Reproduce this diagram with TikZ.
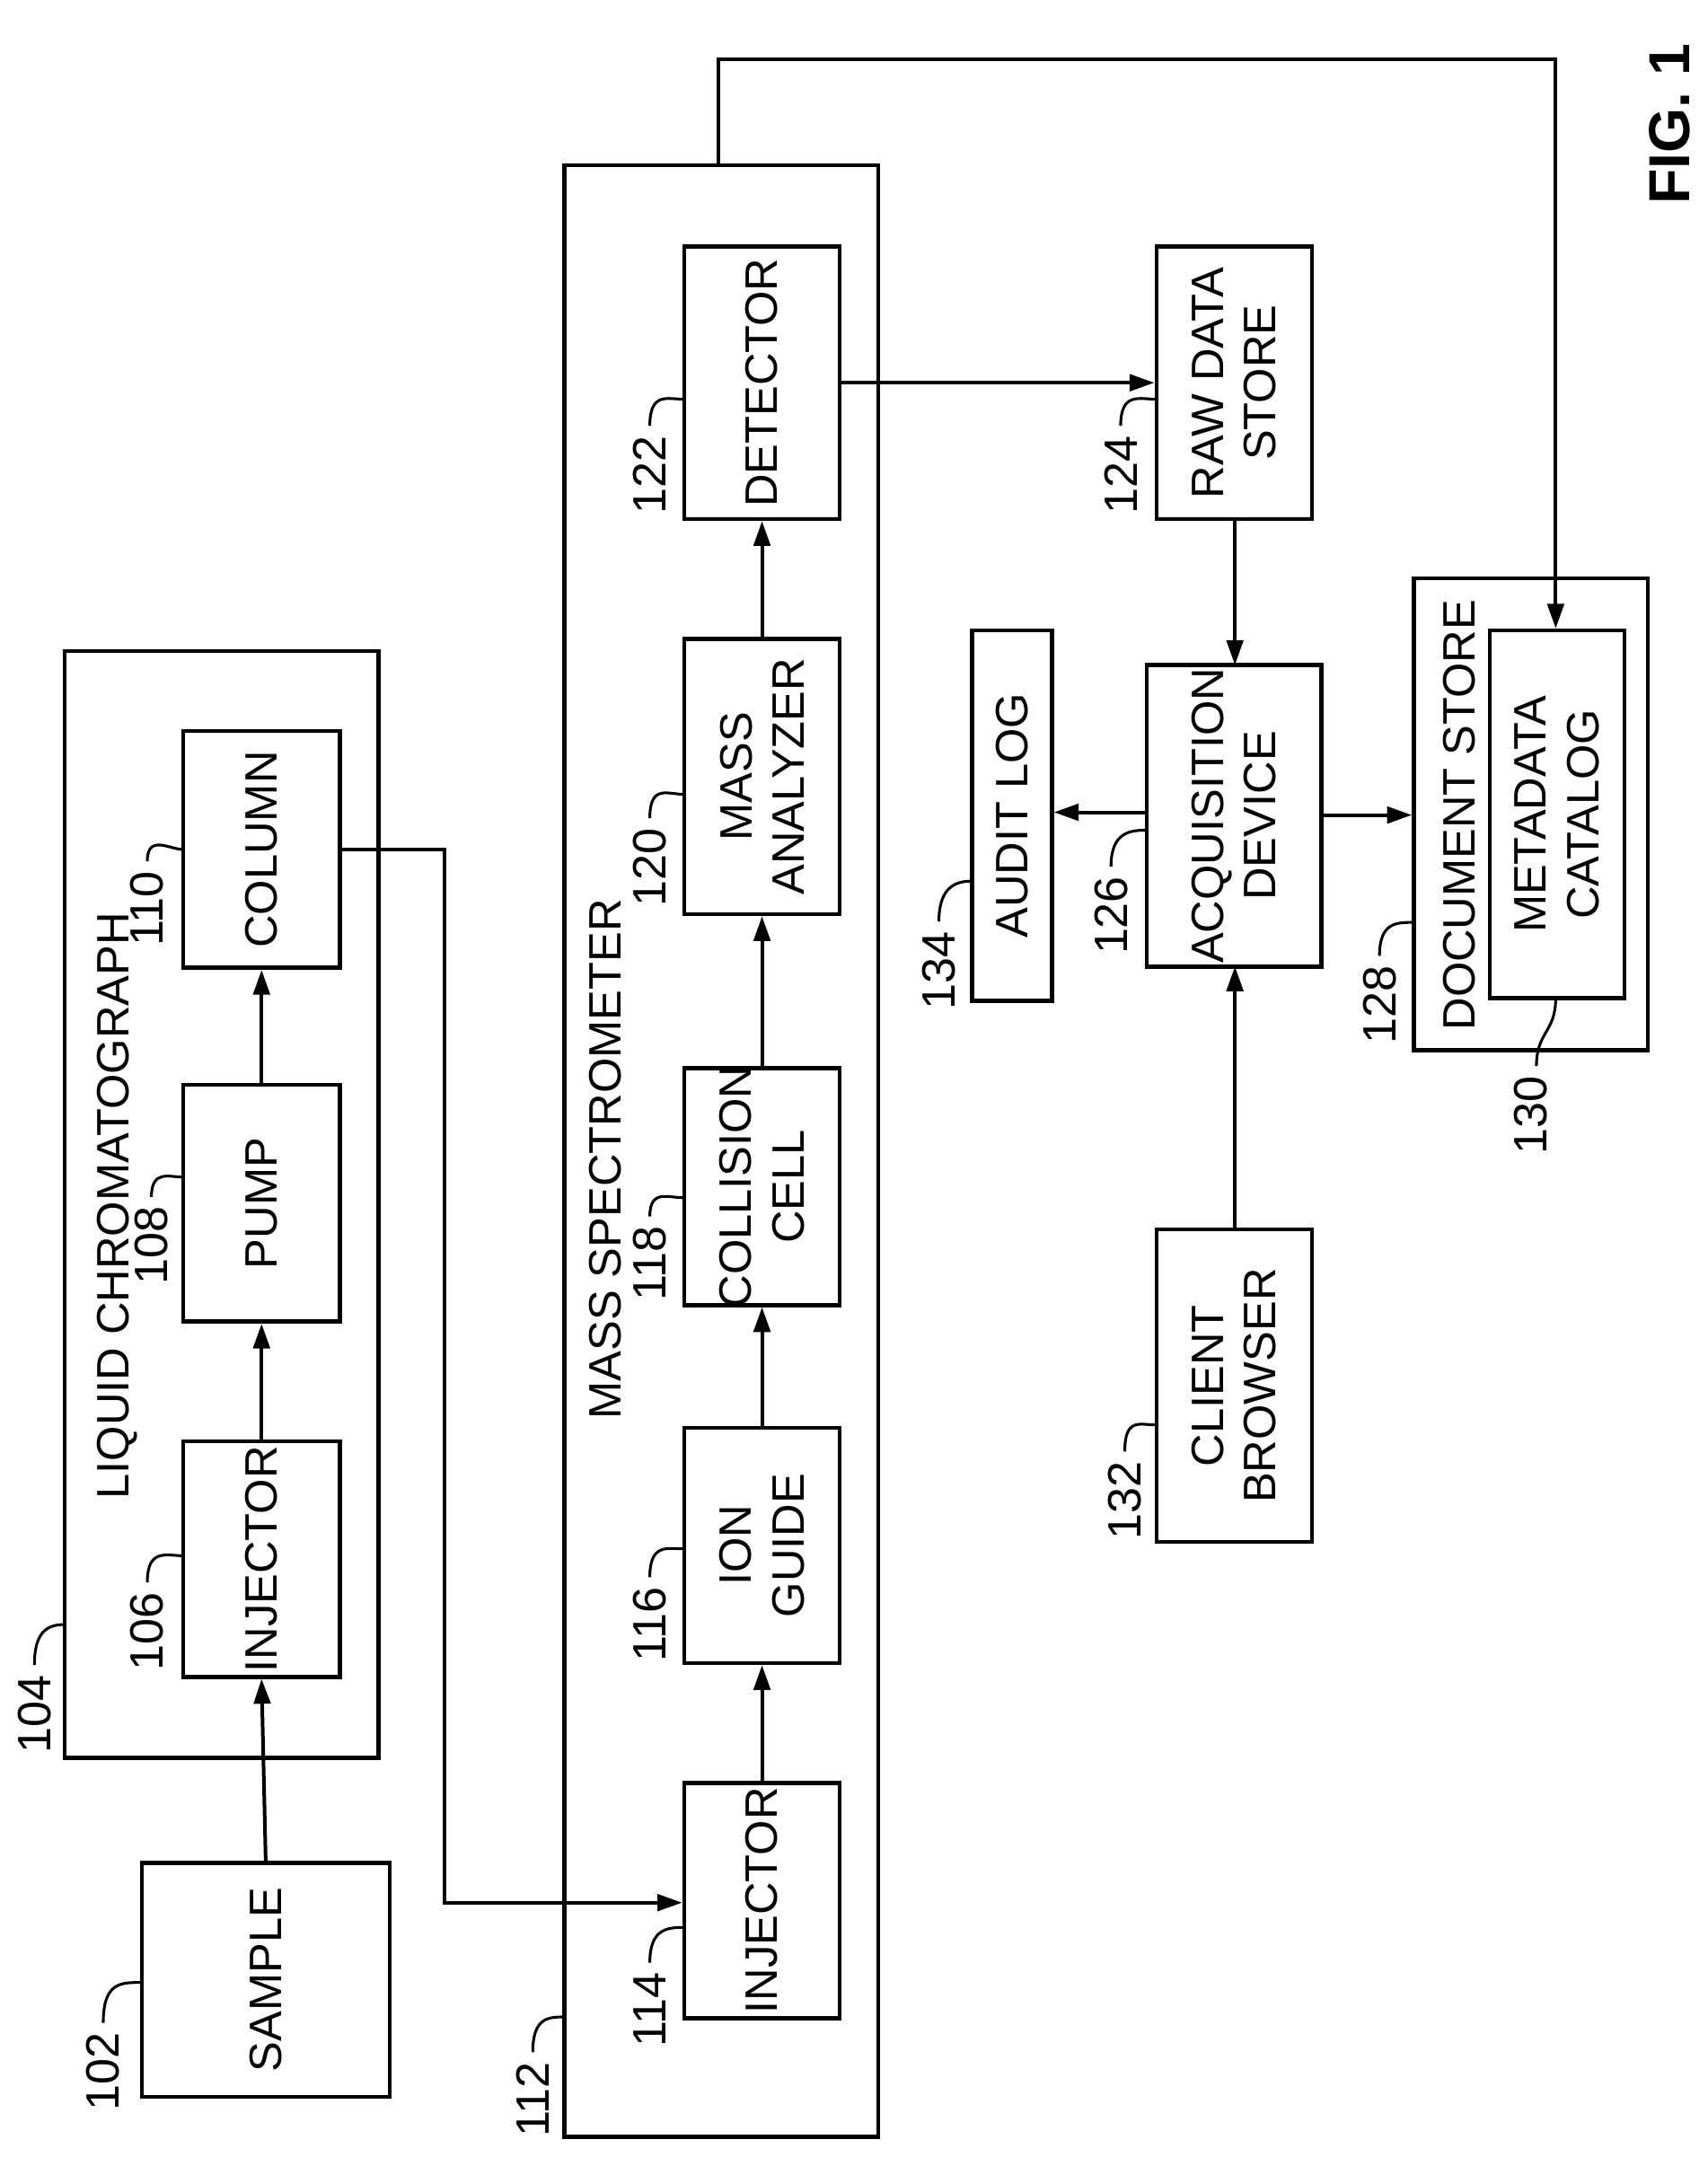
\documentclass[tikz,border=0pt]{standalone}
\usepackage{fontspec}
\setmainfont{Liberation Sans}
\usetikzlibrary{arrows.meta}
\begin{document}
\begin{tikzpicture}[x=0.5pt,y=-0.5pt,line width=1.3pt,
  box/.style={draw,line width=1.5pt,inner sep=0pt},
  txt/.style={rotate=90,align=center,font=\fontsize{16.5}{19}\selectfont,inner sep=0pt},
  num/.style={rotate=90,font=\fontsize{17}{19}\selectfont,inner sep=0pt},
  arr/.style={-{Triangle[length=9pt,width=6pt]}},
  lead/.style={line width=1pt}]
\useasboundingbox (0,0) rectangle (1240,1573.3);
\newcommand\bx[6]{%
  \node[box,minimum width={(#4-#2)*0.5pt},minimum height={(#5-#3)*0.5pt}] (#1) at ({(#2+#4)/2},{(#3+#5)/2}) {};}
% containers
\bx{lc}{47}{473}{275}{1277}{}
\bx{ms}{410}{120}{638}{1552}{}
\bx{ds}{1027}{420}{1197}{763}{}
\node[txt] (lct) at (85,876) {LIQUID CHROMATOGRAPH};
\node[txt] (mst) at (440,842) {MASS SPECTROMETER};
\node[txt] (dst) at (1060,592) {DOCUMENT STORE};
% boxes
\bx{s}{103}{1353}{283}{1523}{} \node[txt] at (s) {SAMPLE};
\bx{inj}{133}{1047}{247}{1218}{} \node[txt] at (inj) {INJECTOR};
\bx{pump}{133}{788}{247}{960}{} \node[txt] at (pump) {PUMP};
\bx{col}{133}{531}{247}{703}{} \node[txt] at (col) {COLUMN};
\bx{minj}{497}{1295}{610}{1466}{} \node[txt] at (minj) {INJECTOR};
\bx{ion}{497}{1037}{610}{1208}{} \node[txt] at (ion) {ION\\GUIDE};
\bx{cc}{497}{776}{610}{948}{} \node[txt] at (cc) {COLLISION\\CELL};
\bx{ma}{497}{464}{610}{664}{} \node[txt] at (ma) {MASS\\ANALYZER};
\bx{det}{497}{179}{610}{377}{} \node[txt] at (det) {DETECTOR};
\bx{raw}{840}{179}{953}{377}{} \node[txt] at (raw) {RAW DATA\\STORE};
\bx{aud}{706}{458}{764}{727}{} \node[txt] at (aud) {AUDIT LOG};
\bx{acq}{833}{483}{960}{702}{} \node[txt] at (acq) {ACQUISITION\\DEVICE};
\bx{meta}{1082}{458}{1180}{725}{} \node[txt] at (meta) {METADATA\\CATALOG};
\bx{cb}{840}{893}{953}{1120}{} \node[txt] at (cb) {CLIENT\\BROWSER};
\node[rotate=90,font=\fontsize{21}{23}\selectfont\bfseries,inner sep=0pt] (fig) at (1213,90) {FIG. 1};
% arrows
\draw[arr] (s.north) -- (inj.south);
\draw[arr] (inj.north) -- (pump.south);
\draw[arr] (pump.north) -- (col.south);
\coordinate (c1) at (323,617); \coordinate (c2) at (323,1382);
\draw[arr] (col.east |- c1) -- (c1) -- (c2) -- (minj.west |- c2);
\draw[arr] (minj.north) -- (ion.south);
\draw[arr] (ion.north) -- (cc.south);
\draw[arr] (cc.north) -- (ma.south);
\draw[arr] (ma.north) -- (det.south);
\draw[arr] (det.east |- 0,278) -- (raw.west |- 0,278);
\coordinate (t1) at (522,43); \coordinate (t2) at (1130,43);
\draw[arr] (522,120) -- (t1) -- (t2) -- (t2 |- meta.north);
\draw[arr] (897,377) -- (897,483);
\draw[arr] (acq.west |- 0,590) -- (aud.east |- 0,590);
\draw[arr] (acq.east |- 0,592) -- (ds.west |- 0,592);
\draw[arr] (cb.north -| 897,0) -- (897,702);
% labels
\node[num] (n102) at (75,1505) {102};
\draw[lead] (n102.east) ++(0,-6) .. controls +(0,-30) and +(-15,0) .. (103,1440);
\node[num] (n104) at (25,1245) {104};
\draw[lead] (n104.east) ++(0,-6) .. controls +(0,-25) and +(-12,0) .. (47,1180);
\node[num] (n106) at (107,1185) {106};
\draw[lead] (n106.east) ++(0,-6) .. controls +(0,-25) and +(-12,0) .. (133,1130);
\node[num] (n108) at (110,905) {108};
\draw[lead] (n108.east) ++(0,-6) .. controls +(0,-20) and +(-10,0) .. (133,855);
\node[num] (n110) at (107,660) {110};
\draw[lead] (n110.east) ++(0,-6) .. controls +(0,-20) and +(-10,0) .. (133,617);
\node[num] (n112) at (387,1525) {112};
\draw[lead] (n112.east) ++(0,-6) .. controls +(0,-25) and +(-12,0) .. (410,1465);
\node[num] (n114) at (472,1460) {114};
\draw[lead] (n114.east) ++(0,-6) .. controls +(0,-25) and +(-12,0) .. (497,1400);
\node[num] (n116) at (472,1180) {116};
\draw[lead] (n116.east) ++(0,-6) .. controls +(0,-25) and +(-12,0) .. (497,1125);
\node[num] (n118) at (472,918) {118};
\draw[lead] (n118.east) ++(0,-6) .. controls +(0,-20) and +(-12,0) .. (497,870);
\node[num] (n120) at (472,630) {120};
\draw[lead] (n120.east) ++(0,-6) .. controls +(0,-25) and +(-12,0) .. (497,577);
\node[num] (n122) at (472,345) {122};
\draw[lead] (n122.east) ++(0,-6) .. controls +(0,-25) and +(-12,0) .. (497,290);
\node[num] (n124) at (814,345) {124};
\draw[lead] (n124.east) ++(0,-6) .. controls +(0,-25) and +(-12,0) .. (840,290);
\node[num] (n134) at (682,705) {134};
\draw[lead] (n134.east) ++(0,-6) .. controls +(0,-25) and +(-12,0) .. (706,640);
\node[num] (n126) at (807,665) {126};
\draw[lead] (n126.east) ++(0,-6) .. controls +(0,-25) and +(-12,0) .. (833,603);
\node[num] (n128) at (1002,730) {128};
\draw[lead] (n128.east) ++(0,-6) .. controls +(0,-25) and +(-12,0) .. (1027,670);
\node[num] (n130) at (1112,810) {130};
\draw[lead] (n130.east) ++(4,-6) .. controls +(0,-25) and +(0,25) .. (1130,725);
\node[num] (n132) at (817,1090) {132};
\draw[lead] (n132.east) ++(0,-6) .. controls +(0,-25) and +(-12,0) .. (840,1035);
\end{tikzpicture}
\end{document}
